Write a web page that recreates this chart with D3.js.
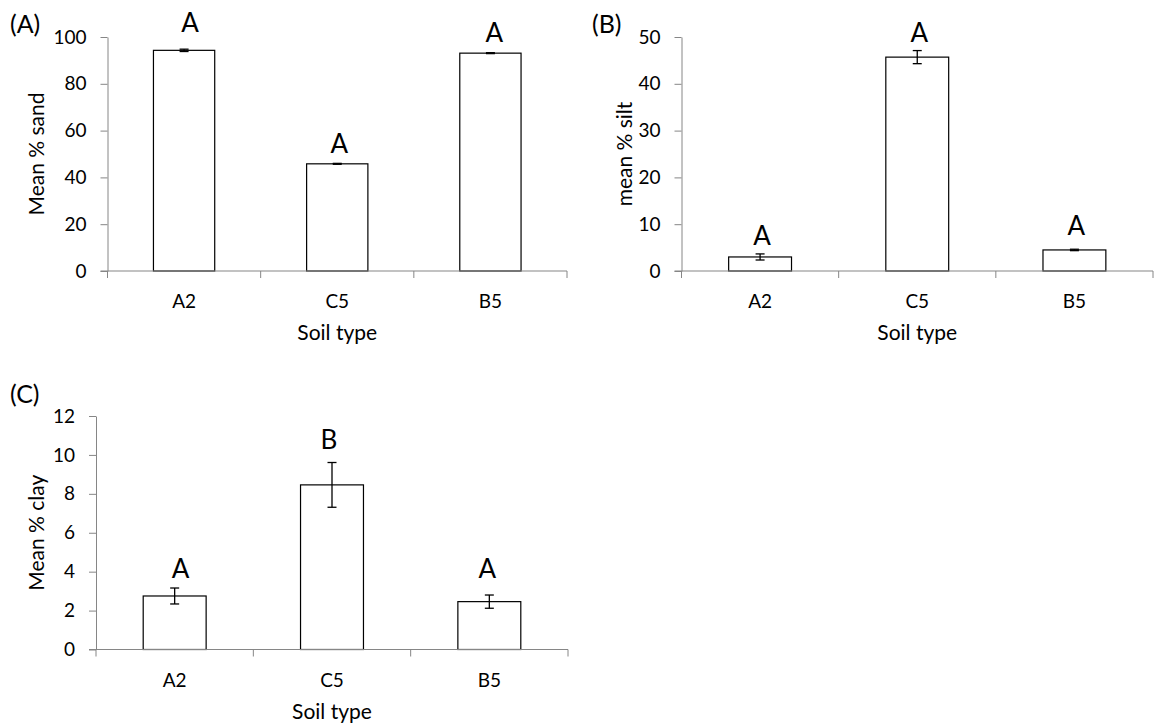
<!DOCTYPE html>
<html>
<head>
<meta charset="utf-8">
<script src="https://cdn.jsdelivr.net/npm/d3@7"></script>
<style>
  html, body { margin: 0; padding: 0; background: #fff; }
  svg { display: block; font-family: Lato, "Open Sans", sans-serif; }
</style>
</head>
<body>
<svg id="chart" width="1160" height="726"></svg>
<script>
// Soil texture by soil type: sand, silt and clay means with standard errors
const soilTypes = ["A2", "C5", "B5"];

const sandMean = [94.3, 45.8, 93.1];
const sandErr  = [0.5, 0.2, 0.2];
const sandLetters = ["A", "A", "A"];
const sandTicks = [0, 20, 40, 60, 80, 100];

const siltMean = [3.0, 45.7, 4.5];
const siltErr  = [0.65, 1.4, 0.15];
const siltLetters = ["A", "A", "A"];
const siltTicks = [0, 10, 20, 30, 40, 50];

const clayMean = [2.75, 8.46, 2.46];
const clayErr  = [0.41, 1.15, 0.34];
const clayLetters = ["A", "B", "A"];
const clayTicks = [0, 2, 4, 6, 8, 10, 12];

const svg = d3.select("#chart");
const axisGrey = "#868686";
const fontStack = "Lato, 'Open Sans', sans-serif";

// panel frames and per-letter placement (gap above error bar, horizontal nudge)
const panels = [
  { tag: "(A)", ylabel: "Mean % sand", mean: sandMean, err: sandErr, letters: sandLetters, ticks: sandTicks,
    x0: 107.5, x1: 567, y0: 271, y1: 37, tagX: 10, tagY: 23, titleX: 35,
    gaps: [17, 10, 11], nudges: [6, 2, 4] },
  { tag: "(B)", ylabel: "mean % silt", mean: siltMean, err: siltErr, letters: siltLetters, ticks: siltTicks,
    x0: 681.5, x1: 1153, y0: 271, y1: 37, tagX: 592, tagY: 23, titleX: 623,
    gaps: [8.5, 8.5, 14], nudges: [2, 2, 2] },
  { tag: "(C)", ylabel: "Mean % clay", mean: clayMean, err: clayErr, letters: clayLetters, ticks: clayTicks,
    x0: 96, x1: 568, y0: 649.5, y1: 416, tagX: 10, tagY: 393, titleX: 35,
    gaps: [10, 13.5, 17.5], nudges: [6, -3, -2] }
];

panels.forEach(p => {
  const g = svg.append("g");
  const yMax = d3.max(p.ticks);

  const x = d3.scaleBand().domain(soilTypes).range([p.x0, p.x1])
    .paddingInner(0.6).paddingOuter(0.3);
  const y = d3.scaleLinear().domain([0, yMax]).range([p.y0, p.y1]);

  // bars
  g.selectAll(".bar").data(soilTypes).join("rect")
    .attr("x", d => x(d))
    .attr("y", (d, i) => y(p.mean[i]))
    .attr("width", x.bandwidth())
    .attr("height", (d, i) => y(0) - y(p.mean[i]))
    .attr("fill", "#fff")
    .attr("stroke", "#000")
    .attr("stroke-width", 1.2);

  // y axis
  const yAxis = g.append("g")
    .attr("transform", `translate(${p.x0},0)`)
    .call(d3.axisLeft(y).tickValues(p.ticks).tickSize(7).tickPadding(14).tickSizeOuter(0));
  yAxis.select(".domain").attr("stroke", axisGrey);
  yAxis.selectAll(".tick line").attr("stroke", axisGrey);
  yAxis.selectAll(".tick text").attr("fill", "#000").style("font-size", "19px")
    .style("font-family", fontStack);

  // x axis line with tick marks on category boundaries
  const half = x.step() * x.paddingInner() / 2;
  const bounds = soilTypes.map(c => x(c) - half).concat([p.x1]);
  g.append("line").attr("x1", p.x0 - 7).attr("x2", p.x1)
    .attr("y1", p.y0).attr("y2", p.y0)
    .attr("stroke", axisGrey).attr("stroke-width", 1.2);
  g.selectAll(".xtick").data(bounds).join("line")
    .attr("x1", d => d).attr("x2", d => d)
    .attr("y1", p.y0).attr("y2", p.y0 + 7)
    .attr("stroke", axisGrey);

  // category labels
  g.selectAll(".xlab").data(soilTypes).join("text")
    .attr("x", d => x(d) + x.bandwidth() / 2)
    .attr("y", p.y0 + 37)
    .attr("text-anchor", "middle")
    .style("font-size", "19px")
    .text(d => d);

  // error bars
  const cap = 4.5;
  soilTypes.forEach((c, i) => {
    const cx = x(c) + x.bandwidth() / 2;
    const hi = y(p.mean[i] + p.err[i]);
    const lo = y(p.mean[i] - p.err[i]);
    const eg = g.append("g").attr("stroke", "#000").attr("stroke-width", 1.3);
    eg.append("line").attr("x1", cx).attr("x2", cx).attr("y1", hi).attr("y2", lo);
    eg.append("line").attr("x1", cx - cap).attr("x2", cx + cap).attr("y1", hi).attr("y2", hi);
    eg.append("line").attr("x1", cx - cap).attr("x2", cx + cap).attr("y1", lo).attr("y2", lo);

    // significance letter
    g.append("text")
      .attr("x", cx + p.nudges[i])
      .attr("y", hi - p.gaps[i])
      .attr("text-anchor", "middle")
      .style("font-size", "26px")
      .text(p.letters[i]);
  });

  // axis titles
  g.append("text")
    .attr("transform", `translate(${p.titleX},${(p.y0 + p.y1) / 2}) rotate(-90)`)
    .attr("text-anchor", "middle")
    .attr("dominant-baseline", "central")
    .style("font-size", "21px")
    .text(p.ylabel);

  g.append("text")
    .attr("x", (p.x0 + p.x1) / 2)
    .attr("y", p.y0 + 69)
    .attr("text-anchor", "middle")
    .style("font-size", "21px")
    .text("Soil type");

  // panel tag
  g.append("text")
    .attr("x", p.tagX)
    .attr("y", p.tagY)
    .attr("dominant-baseline", "central")
    .style("font-size", "25px")
    .text(p.tag);
});
</script>
</body>
</html>
